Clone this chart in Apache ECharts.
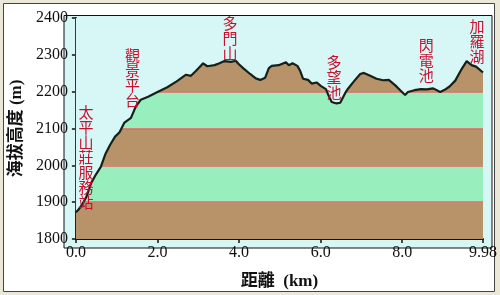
<!DOCTYPE html>
<html>
<head>
<meta charset="utf-8">
<script src="https://cdn.jsdelivr.net/npm/echarts@6/dist/echarts.min.js"></script>
<style>
html,body{margin:0;padding:0;background:#ebe8d8;}
#c{width:500px;height:295px;}
</style>
</head>
<body>
<div id="c"></div>
<script>
// distance (km) and elevation (m) of the trail profile
var distKm = [0.00,0.05,0.14,0.26,0.37,0.49,0.61,0.72,0.84,0.96,1.07,1.19,1.35,1.47,1.59,1.77,2.00,2.24,2.47,2.70,2.82,2.94,3.01,3.12,3.22,3.40,3.52,3.64,3.80,3.92,3.99,4.10,4.27,4.41,4.52,4.64,4.73,4.80,4.97,5.15,5.22,5.31,5.43,5.50,5.57,5.69,5.78,5.90,6.01,6.13,6.20,6.27,6.39,6.48,6.60,6.67,6.83,6.97,7.06,7.20,7.37,7.53,7.67,7.83,7.95,8.07,8.14,8.30,8.46,8.60,8.76,8.93,9.04,9.16,9.30,9.46,9.58,9.70,9.81,9.98];
var elevM  = [1873,1878,1891,1915,1951,1975,1996,2030,2056,2078,2090,2116,2129,2160,2178,2186,2199,2212,2228,2246,2243,2256,2264,2277,2269,2272,2277,2283,2281,2284,2275,2264,2248,2236,2232,2238,2264,2270,2272,2280,2272,2277,2270,2256,2235,2232,2222,2225,2215,2207,2188,2172,2168,2170,2196,2208,2230,2248,2251,2244,2235,2231,2232,2217,2204,2191,2199,2204,2207,2206,2209,2199,2205,2214,2230,2262,2283,2272,2268,2252];

// axis
var yMin = 1800, yMax = 2400, yStep = 100;
var xMax = 9.98;
var xTicks = [0, 2, 4, 6, 8, 9.98];
var xTickLabels = ['0.0', '2.0', '4.0', '6.0', '8.0', '9.98'];

// elevation bands (lower, upper, kind)
var bandLow  = [1800, 1900, 2000, 2100, 2200, 2300];
var bandHigh = [1900, 2000, 2100, 2200, 2300, 2400];
var bandKind = ['brown','green','brown','green','brown','green'];
var bandLines = [1900, 2000, 2100, 2200];

// place-name annotations
var annoNames = ['太平山莊服務站', '觀景平台', '多門山', '多望池', '閃電池', '加羅湖'];
var annoKm    = [0.245, 1.39, 3.78, 6.33, 8.59, 9.83];
var annoElev  = [2023, 2238, 2344, 2240, 2284, 2336];

var SKY = '#d7f7f7', BROWN = '#b89268', GREEN = '#98eebc', BANDLINE = '#e06868';

var profile = distKm.map(function (d, i) { return [d, elevM[i]]; });

var bandAreas = bandLow.map(function (lo, i) {
  return [{ yAxis: lo, itemStyle: { color: bandKind[i] === 'brown' ? BROWN : GREEN } }, { yAxis: bandHigh[i] }];
});

var annoPoints = annoNames.map(function (n, i) {
  return { coord: [annoKm[i], annoElev[i]], value: n.split('').join('\n') };
});

var chart = echarts.init(document.getElementById('c'), null, { renderer: 'canvas' });
chart.setOption({
  animation: false,
  backgroundColor: 'transparent',
  grid: { left: 64, right: 8, top: 18, bottom: 47, containLabel: false },
  graphic: [
    { type: 'rect', z: -10, shape: { x: 3.5, y: 3.5, width: 491, height: 288 },
      style: { fill: '#ffffff', stroke: '#444444', lineWidth: 1 } },
    { type: 'rect', z: -9, shape: { x: 64, y: 15, width: 428, height: 233 },
      style: { fill: SKY, stroke: null } },
    { type: 'rect', z: 50, silent: true, shape: { x: 64, y: 15.5, width: 428, height: 232.5 },
      style: { fill: null, stroke: '#111111', lineWidth: 1 } }
  ],
  xAxis: {
    type: 'value', min: 0, max: xMax,
    name: '距離  (km)', nameLocation: 'middle', nameGap: 34,
    nameTextStyle: { fontFamily: 'Liberation Serif, Noto Sans CJK TC', fontWeight: 'bold', fontSize: 17, color: '#111' },
    axisLine: { show: true, onZero: false, lineStyle: { color: '#111', width: 2 } },
    axisTick: { show: true, length: 4, customValues: xTicks, lineStyle: { color: '#111', width: 1.5 } },
    axisLabel: {
      customValues: xTicks, margin: 6,
      fontFamily: 'Liberation Serif', fontSize: 16, color: '#111',
      formatter: function (v) { var k = xTicks.indexOf(v); return k >= 0 ? xTickLabels[k] : ''; }
    },
    splitLine: { show: false }
  },
  yAxis: {
    type: 'value', min: yMin, max: yMax, interval: yStep,
    name: '海拔高度 (m)', nameLocation: 'middle', nameGap: 48,
    nameTextStyle: { fontFamily: 'Liberation Serif, Noto Sans CJK TC', fontWeight: 'bold', fontSize: 17, color: '#111' },
    axisLine: { show: true, lineStyle: { color: '#111', width: 2 } },
    axisTick: { show: true, length: 4, lineStyle: { color: '#111', width: 1.5 } },
    axisLabel: { margin: 8, fontFamily: 'Liberation Serif', fontSize: 16, color: '#111',
      formatter: function (v) { return String(v); } },
    splitLine: { show: false }
  },
  series: [
    {
      name: 'profile', type: 'line', data: profile, z: 4,
      symbol: 'none', smooth: false,
      lineStyle: { color: '#16201a', width: 2.2 },
      markPoint: {
        symbol: 'circle', symbolSize: 0, silent: true, z: 20,
        label: {
          show: true, position: 'inside', formatter: '{c}',
          color: '#c8102e', fontFamily: 'Noto Sans CJK TC', fontSize: 15, lineHeight: 15,
          align: 'center', verticalAlign: 'middle'
        },
        data: annoPoints
      }
    },
    {
      name: 'sky', type: 'line', data: profile, z: 3,
      symbol: 'none',
      lineStyle: { width: 0, opacity: 0 },
      areaStyle: { color: SKY, opacity: 1, origin: 'end' }
    },
    {
      name: 'bands', type: 'line', data: profile, z: 1,
      symbol: 'none', lineStyle: { width: 0, opacity: 0 },
      markArea: { silent: true, z: 1, data: bandAreas },
      markLine: {
        silent: true, z: 1, symbol: 'none', label: { show: false },
        lineStyle: { color: BANDLINE, type: 'solid', width: 1.5 },
        data: bandLines.map(function (y) { return { yAxis: y }; })
      }
    }
  ]
});
</script>
</body>
</html>
